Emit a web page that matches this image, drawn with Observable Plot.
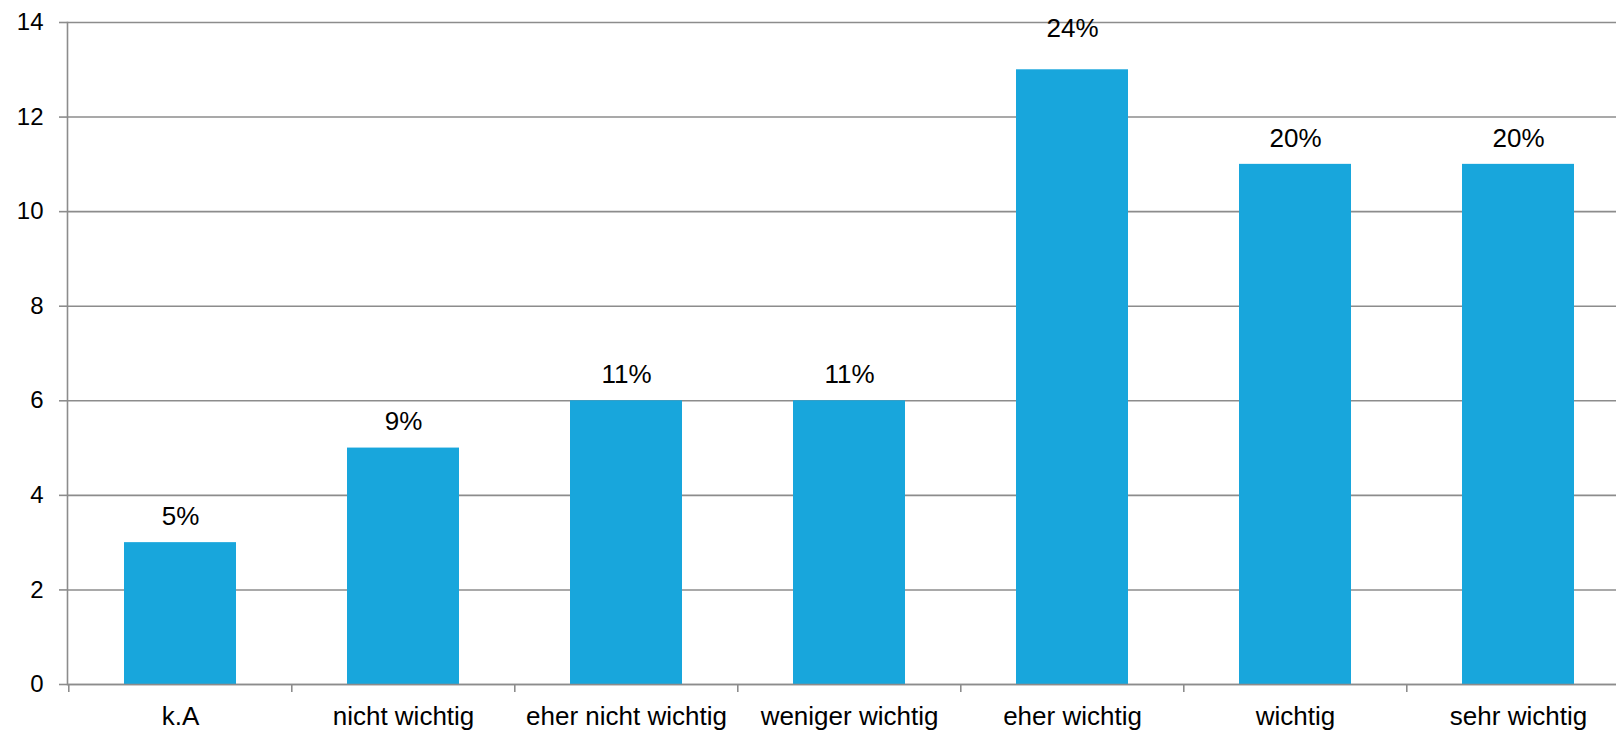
<!DOCTYPE html>
<html>
<head>
<meta charset="utf-8">
<script src="https://cdn.jsdelivr.net/npm/d3@7"></script>
<script src="https://cdn.jsdelivr.net/npm/@observablehq/plot@0.6"></script>
<style>
  html, body { margin: 0; padding: 0; background: #fff; overflow: hidden; }
  #chart { width: 1616px; height: 730px; overflow: hidden; }
  #chart svg { overflow: hidden; }
</style>
</head>
<body>
<div id="chart"></div>
<script>
const categories = ["k.A", "nicht wichtig", "eher nicht wichtig", "weniger wichtig", "eher wichtig", "wichtig", "sehr wichtig"];
const counts = [3, 5, 6, 6, 13, 11, 11];
const percentLabels = ["5%", "9%", "11%", "11%", "24%", "20%", "20%"];
const yTicks = [0, 2, 4, 6, 8, 10, 12, 14];

const data = categories.map((c, i) => ({cat: c, n: counts[i], label: percentLabels[i]}));
const maxN = d3.max(counts);

const W = 1616, H = 730;
const left = 67;
const step = 223.43;
const xRange = [left, left + step * categories.length];
const grid = "#8c8c8c";
const font = "'Liberation Sans', Arial, Helvetica, sans-serif";

const chart = Plot.plot({
  width: W,
  height: H,
  marginTop: 22,
  marginBottom: 46,
  marginLeft: left,
  marginRight: 0,
  style: {fontFamily: font, fontSize: "24px", color: "#000", background: "#fff"},
  x: {domain: categories, range: xRange, paddingInner: 0.5, paddingOuter: 0.25, label: null},
  y: {domain: [0, 14], label: null},
  marks: [
    Plot.ruleY(yTicks, {stroke: grid, strokeWidth: 1.6}),
    Plot.barY(data, {x: "cat", y: "n", fill: "#18a6dc"}),
    Plot.ruleY([0], {stroke: grid, strokeWidth: 1.6}),
    Plot.frame({anchor: "left", stroke: grid, strokeWidth: 1.6}),
    Plot.axisY({ticks: yTicks, tickSize: 8, tickPadding: 16, stroke: grid, strokeWidth: 1.6, fontSize: 24, fill: "#000", label: null}),
    Plot.axisX({tickSize: 8, tickFormat: () => "", dx: -step / 2, stroke: grid, strokeWidth: 1.6, label: null}),
    Plot.axisX({tickSize: 0, tickPadding: 22, fontSize: 26, fill: "#000", label: null}),
    Plot.text(data.filter(d => d.n !== maxN), {x: "cat", y: "n", text: "label", dy: -26, fontSize: 26, fill: "#000", lineAnchor: "middle"}),
    Plot.text(data.filter(d => d.n === maxN), {x: "cat", y: "n", text: "label", dy: -41, fontSize: 26, fill: "#000", lineAnchor: "middle"})
  ]
});
document.getElementById("chart").appendChild(chart);
</script>
</body>
</html>
